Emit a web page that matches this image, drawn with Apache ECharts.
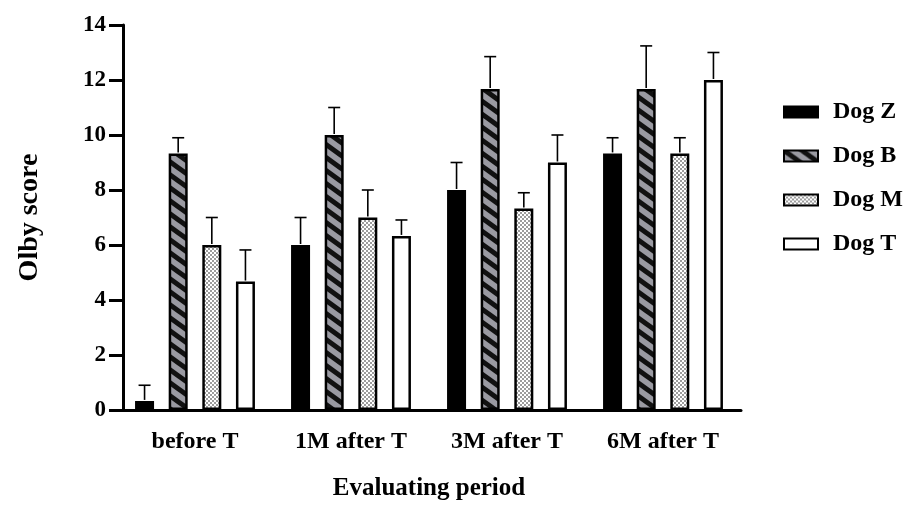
<!DOCTYPE html>
<html>
<head>
<meta charset="utf-8">
<script src="https://cdn.jsdelivr.net/npm/echarts@6/dist/echarts.min.js"></script>
<style>
  html, body { margin: 0; padding: 0; background: #fff; }
  #chart { width: 907px; height: 507px; }
</style>
</head>
<body>
<div id="chart"></div>
<script>
var periods = ['before T', '1M after T', '3M after T', '6M after T'];
var dogNames = ['Dog Z', 'Dog B', 'Dog M', 'Dog T'];

// mean scores per dog, one value per period
var dogZ = [0.33, 6, 8, 9.33];
var dogB = [9.33, 10, 11.67, 11.67];
var dogM = [6, 7, 7.33, 9.33];
var dogT = [4.67, 6.33, 9, 12];

// SD (height of the error bar above the mean)
var sdZ = [0.57, 1, 1, 0.57];
var sdB = [0.57, 1, 1.18, 1.57];
var sdM = [1, 1, 0.57, 0.57];
var sdT = [1.15, 0.58, 1, 1];

var yTicks = [0, 2, 4, 6, 8, 10, 12, 14];

var serif = '"Liberation Serif", "Times New Roman", serif';

function stripePattern() {
  var w = 18, h = 13;
  var c = document.createElement('canvas');
  c.width = w; c.height = h;
  var ctx = c.getContext('2d');
  ctx.fillStyle = '#9a9aa2';
  ctx.fillRect(0, 0, w, h);
  ctx.strokeStyle = '#111';
  ctx.lineWidth = 5;
  for (var k = -1; k <= 1; k++) {
    ctx.beginPath();
    ctx.moveTo(-2, k * h - 2 * h / w);
    ctx.lineTo(w + 2, k * h + h + 2 * h / w);
    ctx.stroke();
  }
  return c;
}

function checkerPattern() {
  var c = document.createElement('canvas');
  c.width = 4; c.height = 4;
  var ctx = c.getContext('2d');
  ctx.fillStyle = '#ffffff';
  ctx.fillRect(0, 0, 4, 4);
  ctx.fillStyle = '#9c9c9c';
  ctx.fillRect(0, 0, 2, 2);
  ctx.fillRect(2, 2, 2, 2);
  return c;
}

var barW = 19;
var gapRatio = 0.77;
var step = barW * (1 + gapRatio);

var fills = [
  '#000',
  { image: stripePattern(), repeat: 'repeat' },
  { image: checkerPattern(), repeat: 'repeat' },
  '#fff'
];
var means = [dogZ, dogB, dogM, dogT];
var sds = [sdZ, sdB, sdM, sdT];

var series = [];
dogNames.forEach(function (name, i) {
  series.push({
    name: name,
    type: 'bar',
    barWidth: barW,
    barGap: (gapRatio * 100) + '%',
    data: means[i],
    itemStyle: { color: fills[i], borderColor: '#000', borderWidth: 2.5 },
    z: 2
  });
});

dogNames.forEach(function (name, i) {
  var offset = (i - 1.5) * step;
  series.push({
    type: 'custom',
    name: name + ' SD',
    data: means[i].map(function (m, j) { return [j, m, m + sds[i][j]]; }),
    z: 3,
    silent: true,
    renderItem: function (params, api) {
      var base = api.coord([api.value(0), api.value(1)]);
      var top = api.coord([api.value(0), api.value(2)]);
      var x = base[0] + offset;
      var st = { stroke: '#000', lineWidth: 1.6 };
      return {
        type: 'group',
        children: [
          { type: 'line', shape: { x1: x, y1: base[1] - 1, x2: x, y2: top[1] }, style: st },
          { type: 'line', shape: { x1: x - 6, y1: top[1], x2: x + 6, y2: top[1] }, style: st }
        ]
      };
    }
  });
});

var option = {
  animation: false,
  backgroundColor: '#fff',
  grid: { left: 117, top: 25, width: 624, height: 385, outerBoundsMode: 'none' },
  legend: {
    data: dogNames,
    orient: 'vertical',
    icon: 'rect',
    left: 778,
    top: 95,
    itemWidth: 34,
    itemHeight: 11,
    itemGap: 20,
    textStyle: {
      fontFamily: serif, fontWeight: 'bold', fontSize: 24, color: '#000',
      lineHeight: 20, padding: [0, 0, 0, 10]
    }
  },
  xAxis: {
    type: 'category',
    data: periods,
    name: 'Evaluating period',
    nameLocation: 'middle',
    nameGap: 66,
    nameTextStyle: { fontFamily: serif, fontWeight: 'bold', fontSize: 25, color: '#000' },
    axisLine: { lineStyle: { color: '#000', width: 3 } },
    axisTick: { alignWithLabel: true, length: 9, lineStyle: { color: '#000', width: 3 } },
    axisLabel: { fontFamily: serif, fontWeight: 'bold', fontSize: 24, color: '#000', margin: 20 }
  },
  yAxis: {
    type: 'value',
    min: 0,
    max: 14,
    interval: 2,
    offset: -6,
    name: 'Olby score',
    nameLocation: 'middle',
    nameGap: 79,
    nameTextStyle: { fontFamily: serif, fontWeight: 'bold', fontSize: 28, color: '#000' },
    axisLine: { show: true, lineStyle: { color: '#000', width: 3 } },
    axisTick: { show: true, length: 14, lineStyle: { color: '#000', width: 3 } },
    splitLine: { show: false },
    axisLabel: {
      fontFamily: serif, fontWeight: 'bold', fontSize: 23, color: '#000', margin: 17,
      formatter: function (v) { return yTicks.indexOf(v) >= 0 ? String(v) : ''; }
    }
  },
  series: series
};

var chart = echarts.init(document.getElementById('chart'));
chart.setOption(option);
</script>
</body>
</html>
